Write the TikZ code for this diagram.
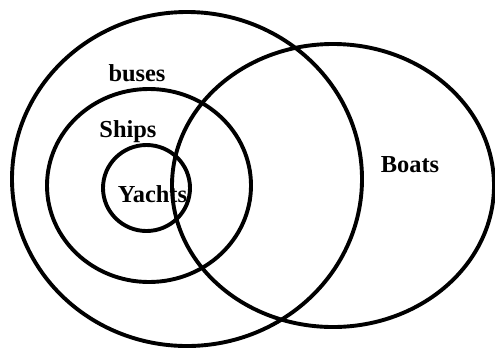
\documentclass[tikz,border=0pt]{standalone}
\usepackage{fontspec}
\setmainfont{Liberation Serif}
\begin{document}
\begin{tikzpicture}[x=1bp,y=-1bp,
  setline/.style={draw=black,line width=3.9bp},
  setlabel/.style={font=\fontsize{24.5}{26}\selectfont\bfseries,text=black,inner sep=0pt}]
\useasboundingbox[fill=white] (0,0) rectangle (495,349);
\draw[setline] (187,179) ellipse [x radius=175,y radius=167];
\draw[setline] (149,185.5) ellipse [x radius=102,y radius=96.5];
\draw[setline] (146.5,188) ellipse [x radius=43.5,y radius=43];
\draw[setline] (333,185.5) ellipse [x radius=161,y radius=141.5];
\node[setlabel] (buses) at (137,73) {buses};
\node[setlabel] (ships) at (128,132) {Ships};
\node[setlabel] (yachts) at (152.5,194) {Yachts};
\node[setlabel] (boats) at (410,165) {Boats};
\end{tikzpicture}
\end{document}
